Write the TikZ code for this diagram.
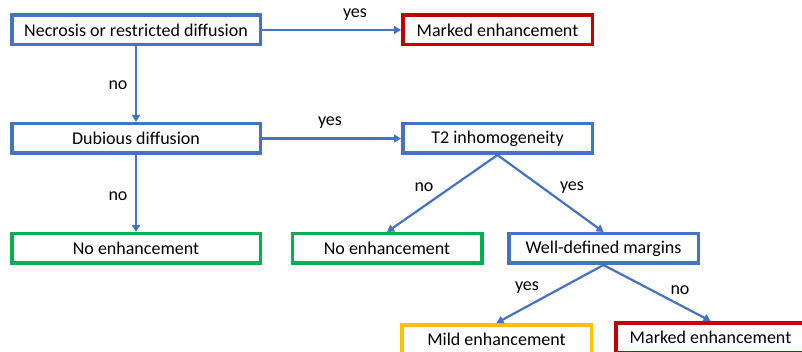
\documentclass[tikz,border=0pt]{standalone}
\usepackage{fontspec}
\setmainfont{Carlito}
\usetikzlibrary{arrows.meta}
\definecolor{oblue}{HTML}{4472C4}
\definecolor{ored}{HTML}{C00000}
\definecolor{ogreen}{HTML}{00B050}
\definecolor{oyellow}{HTML}{FFC000}
\tikzset{
  box/.style={draw, line width=3.5pt, rectangle, minimum height=29.5pt, inner sep=0pt, font=\fontsize{18}{21}\selectfont, text=black},
  wide/.style={minimum width=248.5pt},
  narrow/.style={minimum width=189.5pt},
  conn/.style={draw=oblue, line width=2.2pt, -{Triangle[length=7pt,width=8pt]}},
  lbl/.style={font=\fontsize{18}{21}\selectfont, text=black, inner sep=0pt}
}
\begin{document}
\begin{tikzpicture}[x=1pt,y=-1pt]
\useasboundingbox (0,0) rectangle (802,352);
\clip (0,0) rectangle (802,352);
\node[box, wide, draw=oblue] (nec) at (136,30) {Necrosis or restricted diffusion};
\node[box, narrow, draw=ored] (mk1) at (497.5,30) {Marked enhancement};
\node[box, wide, draw=oblue] (dub) at (136,138.5) {Dubious diffusion};
\node[box, narrow, draw=oblue] (t2) at (497.5,138.5) {T2 inhomogeneity};
\node[box, wide, draw=ogreen] (ne1) at (136,248.5) {No enhancement};
\node[box, narrow, draw=ogreen] (ne2) at (387,248.5) {No enhancement};
\node[box, narrow, draw=oblue] (wdm) at (603.5,248.5) {Well-defined margins};
\node[box, narrow, draw=oyellow] (mild) at (496.5,339.5) {Mild enhancement};
\node[box, narrow, draw=ored] (mk2) at (710.5,337.5) {Marked enhancement};

\draw[conn] (nec) -- (mk1);
\draw[conn] (nec) -- (dub);
\draw[conn] (dub) -- (t2);
\draw[conn] (dub) -- (ne1);
\draw[conn] (t2.south) -- (ne2.north);
\draw[conn] (t2.south) -- (wdm.north);
\draw[conn] (wdm.south) -- (mild.north);
\draw[conn] (wdm.south) -- (mk2.north);

\node[lbl] (l1) at (355,15) {yes};
\node[lbl] (l2) at (118,85) {no};
\node[lbl] (l3) at (330,123) {yes};
\node[lbl] (l4) at (118,196) {no};
\node[lbl] (l5) at (424,187) {no};
\node[lbl] (l6) at (572,188) {yes};
\node[lbl] (l7) at (527,288) {yes};
\node[lbl] (l8) at (680,290) {no};
\end{tikzpicture}
\end{document}
